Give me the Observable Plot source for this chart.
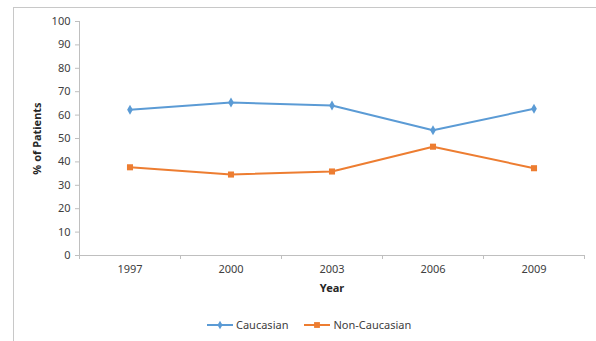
<!DOCTYPE html>
<html>
<head>
<meta charset="utf-8">
<script src="https://cdn.jsdelivr.net/npm/d3@7"></script>
<script src="https://cdn.jsdelivr.net/npm/@observablehq/plot@0.6"></script>
<style>
  html, body { margin: 0; padding: 0; background: #fff; }
  #wrap { position: relative; width: 596px; height: 341px; overflow: hidden; font-family: "Noto Sans", "Open Sans", sans-serif; }
  #frame { position: absolute; left: 13px; top: 7px; right: -2px; bottom: -2px; border-left: 1px solid #c8c8c8; border-top: 1px solid #c8c8c8; }
  #chart { position: absolute; left: 0; top: 0; }
  #legend { position: absolute; left: 207px; top: 317px; display: flex; align-items: center; font-size: 11px; color: #404040; }
  .item { display: flex; align-items: center; margin-right: 16px; }
  .item svg { margin-right: 3px; }
</style>
</head>
<body>
<div id="wrap">
  <div id="frame"></div>
  <div id="chart"></div>
  <div id="legend"></div>
</div>
<script>
// Survey years
const years = [1997, 2000, 2003, 2006, 2009];
// Share of patients (%) by group
const caucasian    = [62.3, 65.4, 64.1, 53.5, 62.7];
const nonCaucasian = [37.7, 34.6, 35.9, 46.5, 37.3];
const seriesNames  = ["Caucasian", "Non-Caucasian"];
const yTicks = [0, 10, 20, 30, 40, 50, 60, 70, 80, 90, 100];

const colors = {"Caucasian": "#5B9BD5", "Non-Caucasian": "#ED7D31"};
const symbols = {"Caucasian": "diamond", "Non-Caucasian": "square"};

const rows = [
  ...years.map((y, i) => ({year: y, value: caucasian[i], group: seriesNames[0]})),
  ...years.map((y, i) => ({year: y, value: nonCaucasian[i], group: seriesNames[1]}))
];

// Each year sits in the middle of its own category slot; slot edges carry the ticks
const step = years[1] - years[0];
const edges = [...years.map(y => y - step / 2), years[years.length - 1] + step / 2];

const axisGrey = "#bfbfbf";
const textGrey = "#404040";

const chart = Plot.plot({
  width: 596,
  height: 341,
  marginLeft: 79,
  marginRight: 12,
  marginTop: 21,
  marginBottom: 86,
  style: {fontFamily: "'Noto Sans', 'Open Sans', sans-serif", fontSize: "11px", background: "transparent"},
  x: {type: "linear", domain: [edges[0], edges[edges.length - 1]], axis: null},
  y: {domain: [0, 100], axis: null},
  marks: [
    Plot.ruleY([0], {stroke: axisGrey}),
    Plot.ruleX([edges[0]], {stroke: axisGrey}),
    Plot.axisY({ticks: yTicks, tickSize: 4, stroke: axisGrey, tickFormat: () => "", label: null}),
    Plot.axisY({ticks: yTicks, tickSize: 0, tickPadding: 9, fill: textGrey, tickFormat: d => String(d), label: null}),
    Plot.axisX({ticks: edges, tickSize: 4, stroke: axisGrey, tickFormat: () => "", label: null}),
    Plot.axisX({ticks: years, tickSize: 0, tickPadding: 10, fill: textGrey, tickFormat: d => String(d), label: null}),
    Plot.line(rows, {x: "year", y: "value", z: "group", stroke: d => colors[d.group], strokeWidth: 2}),
    Plot.dot(rows, {x: "year", y: "value", symbol: d => symbols[d.group], fill: d => colors[d.group], r: d => d.group === "Caucasian" ? 2.6 : 3.4}),
    Plot.text(["Year"], {frameAnchor: "bottom", dy: 36, fontWeight: "bold", fill: "#262626", fontSize: 11}),
    Plot.text(["% of Patients"], {frameAnchor: "left", textAnchor: "middle", dx: -42, rotate: -90, fontWeight: "bold", fill: "#262626", fontSize: 11})
  ]
});
document.getElementById("chart").appendChild(chart);

// Legend below the plot area
const legend = d3.select("#legend");
for (const name of seriesNames) {
  const item = legend.append("div").attr("class", "item");
  const sw = item.append("svg").attr("width", 26).attr("height", 10);
  sw.append("line").attr("x1", 0).attr("x2", 26).attr("y1", 5).attr("y2", 5)
    .attr("stroke", colors[name]).attr("stroke-width", 2);
  const sym = name === "Caucasian" ? d3.symbolDiamond : d3.symbolSquare;
  const size = name === "Caucasian" ? 22 : 34;
  sw.append("path").attr("d", d3.symbol(sym, size)()).attr("transform", "translate(13,5)")
    .attr("fill", colors[name]);
  item.append("span").text(name);
}
</script>
</body>
</html>
